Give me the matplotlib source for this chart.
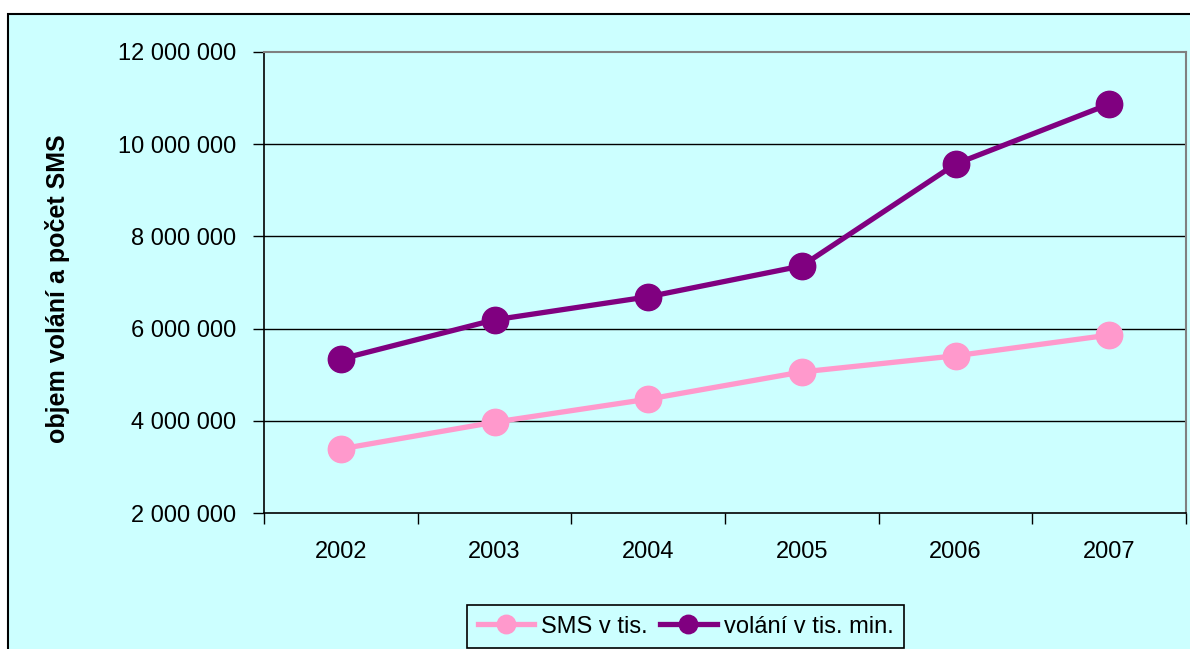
import matplotlib
matplotlib.use("Agg")
import matplotlib.pyplot as plt
import matplotlib.patches as mpatches
from matplotlib.ticker import FuncFormatter, FixedLocator

plt.rcParams['font.family'] = ['Liberation Sans', 'DejaVu Sans']

years = ["2002", "2003", "2004", "2005", "2006", "2007"]
sms = [3390000, 3970000, 4470000, 5060000, 5410000, 5860000]
calls = [5340000, 6190000, 6690000, 7360000, 9570000, 10870000]
y_ticks = [2000000, 4000000, 6000000, 8000000, 10000000, 12000000]

W, H = 1190, 649
fig = plt.figure(figsize=(W / 100, H / 100), dpi=100, facecolor='white')

bg = '#CCFFFF'
frame = mpatches.Rectangle((8 / W, -0.2), 1.3, (1 - 14 / H) + 0.2,
                           transform=fig.transFigure, facecolor=bg,
                           edgecolor='black', linewidth=1.5, zorder=-10)
fig.patches.append(frame)

ax = fig.add_axes([264 / W, 1 - 513 / H, (1186 - 264) / W, (513 - 52) / H])
ax.set_facecolor(bg)
ax.set_zorder(1)

x = list(range(len(years)))
ax.plot(x, sms, color='#FF99CC', linewidth=3.8, marker='o', markersize=19,
        label='SMS v tis.', zorder=3, clip_on=False)
ax.plot(x, calls, color='#800080', linewidth=3.8, marker='o', markersize=19,
        label='volání v tis. min.', zorder=3, clip_on=False)

ax.set_xlim(-0.5, len(years) - 0.5)
ax.set_ylim(2000000, 12000000)
ax.set_yticks(y_ticks)
ax.yaxis.set_major_formatter(FuncFormatter(lambda v, p: f"{int(v):,}".replace(",", " ")))
for yv in y_ticks[1:-1]:
    ax.axhline(yv, color='black', linewidth=1, zorder=1)

ax.set_xticks(x)
ax.set_xticklabels(years)
ax.xaxis.set_minor_locator(FixedLocator([i - 0.5 for i in range(len(years) + 1)]))
ax.tick_params(axis='x', which='major', length=0, pad=20, labelsize=17)
ax.tick_params(axis='x', which='minor', length=8, width=1, direction='out', color='black')
ax.tick_params(axis='y', which='major', length=8, width=1, direction='out', pad=12,
               labelsize=17, color='black')

for s in ['top', 'right']:
    ax.spines[s].set_color('#808080')
    ax.spines[s].set_linewidth(1.5)
for s in ['left', 'bottom']:
    ax.spines[s].set_color('black')
    ax.spines[s].set_linewidth(1.2)

fig.text(58 / W, 1 - 289 / H, 'objem volání a počet SMS', rotation=90,
         ha='center', va='center', fontsize=18, fontweight='bold')

leg = fig.legend(loc='upper center', bbox_to_anchor=(685.5 / W, 1 - 605 / H),
                 ncol=2, frameon=True, fancybox=False, edgecolor='black',
                 facecolor=bg, framealpha=1, fontsize=17, handlelength=2.4,
                 handletextpad=0.3, columnspacing=0.5, borderpad=0.45,
                 borderaxespad=0, markerscale=0.7)
leg.get_frame().set_linewidth(1.2)
leg.set_zorder(2)

fig.savefig('out.png', dpi=100, facecolor='white')
